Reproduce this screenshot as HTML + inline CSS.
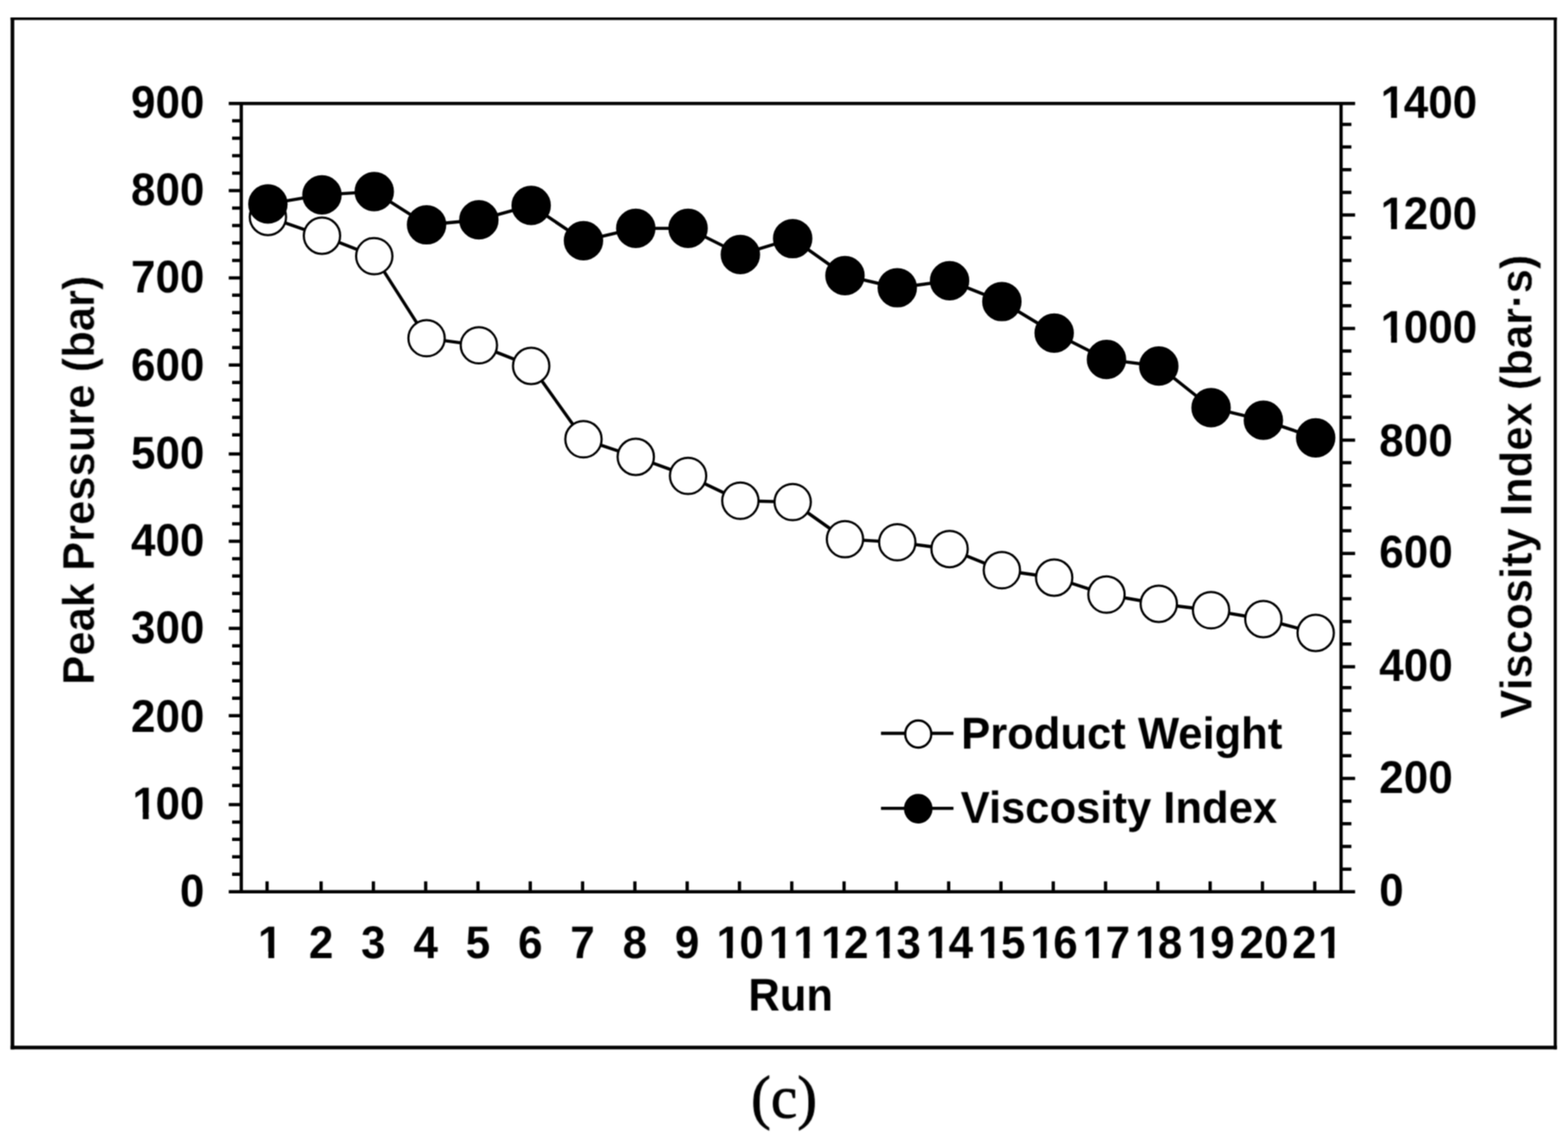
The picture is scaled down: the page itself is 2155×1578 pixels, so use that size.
<!DOCTYPE html>
<html lang="en"><head><meta charset="utf-8"><title>Peak pressure and viscosity index by run (c)</title>
<style>
html,body{margin:0;padding:0;background:#fff;}
body{width:2155px;height:1578px;overflow:hidden;}
svg{display:block;}
.t{font-family:"Liberation Sans",Arial,Helvetica,sans-serif;font-weight:700;fill:#000;text-rendering:geometricPrecision;}
.d{font-kerning:none;font-variant-ligatures:none;}
.cap{font-family:"Liberation Serif","DejaVu Serif",serif;fill:#000;}
.ln{stroke:#000;fill:none;}
</style></head><body>
<svg width="2155" height="1578" viewBox="0 0 2155 1578">
<defs><filter id="soften" filterUnits="userSpaceOnUse" x="0" y="0" width="2155" height="1578" color-interpolation-filters="sRGB"><feConvolveMatrix order="3" kernelMatrix="1 2 1 2 4 2 1 2 1" edgeMode="duplicate" preserveAlpha="false"/></filter><filter id="soften-text" filterUnits="userSpaceOnUse" x="0" y="0" width="2155" height="1578" color-interpolation-filters="sRGB"><feConvolveMatrix order="5" kernelMatrix="1 8 16 8 1 8 64 128 64 8 16 128 256 128 16 8 64 128 64 8 1 8 16 8 1" edgeMode="duplicate" preserveAlpha="false"/></filter></defs>
<rect x="0" y="0" width="2155" height="1578" fill="#fff"/>
<g id="shapes" filter="url(#soften)">
<g id="frame" fill="#000">
<rect x="14.6" y="24.0" width="2125.2" height="3.5"/>
<rect x="14.6" y="1437.4" width="2125.2" height="5.0"/>
<rect x="14.6" y="24.0" width="5.0" height="1418.4"/>
<rect x="2135.4" y="24.0" width="4.2" height="1418.4"/>
</g>
<g id="axes" class="ln" stroke-width="4.5">
<line x1="314.4" y1="142.3" x2="1862.4" y2="142.3"/>
<line x1="314.4" y1="1225.8" x2="1862.4" y2="1225.8"/>
<line x1="331.6" y1="142.3" x2="331.6" y2="1225.8"/>
<line x1="1843.1" y1="142.3" x2="1843.1" y2="1225.8"/>
</g>
<path id="ticks" class="ln" stroke-width="4.5" d="M319 166.05H331.6M319 190.03H331.6M319 214.01H331.6M319 237.99H331.6M314.4 261.98H331.6M319 285.96H331.6M319 309.94H331.6M319 333.92H331.6M319 357.9H331.6M314.4 381.88H331.6M319 405.86H331.6M319 429.84H331.6M319 453.82H331.6M319 477.8H331.6M314.4 501.79H331.6M319 525.77H331.6M319 549.75H331.6M319 573.73H331.6M319 597.71H331.6M314.4 623.99H331.6M319 647.97H331.6M319 671.95H331.6M319 695.93H331.6M319 719.91H331.6M314.4 743.89H331.6M319 767.88H331.6M319 791.86H331.6M319 815.84H331.6M319 839.82H331.6M314.4 863.8H331.6M319 887.78H331.6M319 911.76H331.6M319 935.74H331.6M319 959.72H331.6M314.4 983.7H331.6M319 1007.69H331.6M319 1031.67H331.6M319 1055.65H331.6M319 1079.63H331.6M314.4 1105.91H331.6M319 1129.89H331.6M319 1153.87H331.6M319 1177.85H331.6M319 1201.83H331.6M1843.1 170.93H1857.3M1843.1 202.09H1857.3M1843.1 233.25H1857.3M1843.1 264.41H1857.3M1843.1 295.57H1862.4M1843.1 326.74H1857.3M1843.1 357.9H1857.3M1843.1 389.06H1857.3M1843.1 420.22H1857.3M1843.1 451.38H1862.4M1843.1 482.54H1857.3M1843.1 513.7H1857.3M1843.1 544.86H1857.3M1843.1 573.72H1857.3M1843.1 604.89H1862.4M1843.1 636.05H1857.3M1843.1 667.21H1857.3M1843.1 698.37H1857.3M1843.1 729.53H1857.3M1843.1 760.69H1862.4M1843.1 791.85H1857.3M1843.1 823.01H1857.3M1843.1 854.17H1857.3M1843.1 885.33H1857.3M1843.1 916.5H1862.4M1843.1 945.36H1857.3M1843.1 976.52H1857.3M1843.1 1007.68H1857.3M1843.1 1038.84H1857.3M1843.1 1070H1862.4M1843.1 1101.16H1857.3M1843.1 1132.32H1857.3M1843.1 1163.48H1857.3M1843.1 1194.64H1857.3M367.05 1211.6V1225.8M441.3 1211.6V1225.8M513.18 1211.6V1225.8M585.05 1211.6V1225.8M656.93 1211.6V1225.8M728.8 1211.6V1225.8M800.68 1211.6V1225.8M872.56 1211.6V1225.8M944.43 1211.6V1225.8M1016.31 1211.6V1225.8M1088.18 1211.6V1225.8M1160.06 1211.6V1225.8M1231.94 1211.6V1225.8M1303.81 1211.6V1225.8M1375.69 1211.6V1225.8M1447.56 1211.6V1225.8M1519.44 1211.6V1225.8M1591.32 1211.6V1225.8M1663.19 1211.6V1225.8M1735.07 1211.6V1225.8M1806.94 1211.6V1225.8"/>
<g id="product-weight">
<polyline class="ln" stroke-width="4.4" stroke-linejoin="round" points="368.2,298.2 442.5,324 514.38,352.1 586.26,464.9 658.14,474.6 730.02,503 801.9,603.8 873.78,628 945.66,654.1 1017.54,688.3 1089.42,690.1 1161.3,741.1 1233.18,745.4 1305.06,754.7 1376.94,783.8 1448.82,794 1520.7,817.3 1592.58,830 1664.46,838.8 1736.34,851 1808.22,870"/>
<g fill="#fff" stroke="#000" stroke-width="3.0">
<circle cx="368.2" cy="298.2" r="24.95"/>
<circle cx="442.5" cy="324" r="24.95"/>
<circle cx="514.38" cy="352.1" r="24.95"/>
<circle cx="586.26" cy="464.9" r="24.95"/>
<circle cx="658.14" cy="474.6" r="24.95"/>
<circle cx="730.02" cy="503" r="24.95"/>
<circle cx="801.9" cy="603.8" r="24.95"/>
<circle cx="873.78" cy="628" r="24.95"/>
<circle cx="945.66" cy="654.1" r="24.95"/>
<circle cx="1017.54" cy="688.3" r="24.95"/>
<circle cx="1089.42" cy="690.1" r="24.95"/>
<circle cx="1161.3" cy="741.1" r="24.95"/>
<circle cx="1233.18" cy="745.4" r="24.95"/>
<circle cx="1305.06" cy="754.7" r="24.95"/>
<circle cx="1376.94" cy="783.8" r="24.95"/>
<circle cx="1448.82" cy="794" r="24.95"/>
<circle cx="1520.7" cy="817.3" r="24.95"/>
<circle cx="1592.58" cy="830" r="24.95"/>
<circle cx="1664.46" cy="838.8" r="24.95"/>
<circle cx="1736.34" cy="851" r="24.95"/>
<circle cx="1808.22" cy="870" r="24.95"/>
</g></g>
<g id="viscosity-index">
<polyline class="ln" stroke-width="4.4" stroke-linejoin="round" points="368.2,280.4 442.5,267.9 514.38,263.4 586.26,309 658.14,302.2 730.02,282.4 801.9,330.8 873.78,313.9 945.66,313.9 1017.54,349.9 1089.42,328 1161.3,378.9 1233.18,395.5 1305.06,385.9 1376.94,414.5 1448.82,457.8 1520.7,494.1 1592.58,503.2 1664.46,560.4 1736.34,577.7 1808.22,601.8"/>
<g fill="#000" stroke="#000" stroke-width="3.6">
<circle cx="368.2" cy="280.4" r="25.3"/>
<circle cx="442.5" cy="267.9" r="25.3"/>
<circle cx="514.38" cy="263.4" r="25.3"/>
<circle cx="586.26" cy="309" r="25.3"/>
<circle cx="658.14" cy="302.2" r="25.3"/>
<circle cx="730.02" cy="282.4" r="25.3"/>
<circle cx="801.9" cy="330.8" r="25.3"/>
<circle cx="873.78" cy="313.9" r="25.3"/>
<circle cx="945.66" cy="313.9" r="25.3"/>
<circle cx="1017.54" cy="349.9" r="25.3"/>
<circle cx="1089.42" cy="328" r="25.3"/>
<circle cx="1161.3" cy="378.9" r="25.3"/>
<circle cx="1233.18" cy="395.5" r="25.3"/>
<circle cx="1305.06" cy="385.9" r="25.3"/>
<circle cx="1376.94" cy="414.5" r="25.3"/>
<circle cx="1448.82" cy="457.8" r="25.3"/>
<circle cx="1520.7" cy="494.1" r="25.3"/>
<circle cx="1592.58" cy="503.2" r="25.3"/>
<circle cx="1664.46" cy="560.4" r="25.3"/>
<circle cx="1736.34" cy="577.7" r="25.3"/>
<circle cx="1808.22" cy="601.8" r="25.3"/>
</g></g>
<g id="legend">
<path class="ln" stroke-width="4.4" d="M1210.8 1008.0H1310.4M1210.8 1111.1H1310.4"/>
<ellipse cx="1262.0" cy="1009.0" rx="17.9" ry="18.6" fill="#fff" stroke="#000" stroke-width="3.2"/>
<ellipse cx="1262.0" cy="1111.6" rx="18.0" ry="18.7" fill="#000" stroke="#000" stroke-width="3.2"/>
</g>
</g>
<g id="labels" filter="url(#soften-text)">
<g id="ylabels-left" class="t d" font-size="60.5">
<text transform="translate(247.35 1245.6) scale(1 1.04)">0</text>
<text transform="translate(180.06 1126.01) scale(1 1.04)"><tspan dx="2">1</tspan><tspan dx="-2">0</tspan>0</text>
<text transform="translate(180.06 1005.7) scale(1 1.04)">200</text>
<text transform="translate(180.06 883.6) scale(1 1.04)">300</text>
<text transform="translate(180.06 763.5) scale(1 1.04)">400</text>
<text transform="translate(180.06 643.99) scale(1 1.04)">500</text>
<text transform="translate(180.06 523.49) scale(1 1.04)">600</text>
<text transform="translate(180.06 401.78) scale(1 1.04)">700</text>
<text transform="translate(180.06 281.77) scale(1 1.04)">800</text>
<text transform="translate(180.06 161.7) scale(1 1.04)">900</text>
</g>
<g id="ylabels-right" class="t d" font-size="60.5">
<text transform="translate(1895.6 1245.4) scale(1 1.04)">0</text>
<text transform="translate(1895.6 1090.2) scale(1 1.04)">200</text>
<text transform="translate(1895.6 935.9) scale(1 1.04)">400</text>
<text transform="translate(1895.6 780.09) scale(1 1.04)">600</text>
<text transform="translate(1895.6 626.69) scale(1 1.04)">800</text>
<text transform="translate(1895.6 470.98) scale(1 1.04)"><tspan dx="2">1</tspan><tspan dx="-2">0</tspan>00</text>
<text transform="translate(1895.6 315.27) scale(1 1.04)"><tspan dx="2">1</tspan><tspan dx="-2">2</tspan>00</text>
<text transform="translate(1895.6 161.7) scale(1 1.04)"><tspan dx="2">1</tspan><tspan dx="-2">4</tspan>00</text>
</g>
<g id="xlabels" class="t d" font-size="60.5">
<text transform="translate(352.58 1317.4) scale(1 1.04)"><tspan dx="2">1</tspan></text>
<text transform="translate(424.48 1317.4) scale(1 1.04)">2</text>
<text transform="translate(496.35 1317.4) scale(1 1.04)">3</text>
<text transform="translate(568.23 1317.4) scale(1 1.04)">4</text>
<text transform="translate(640.1 1317.4) scale(1 1.04)">5</text>
<text transform="translate(711.98 1317.4) scale(1 1.04)">6</text>
<text transform="translate(783.86 1317.4) scale(1 1.04)">7</text>
<text transform="translate(855.73 1317.4) scale(1 1.04)">8</text>
<text transform="translate(927.61 1317.4) scale(1 1.04)">9</text>
<text transform="translate(982.66 1317.4) scale(1 1.04)"><tspan dx="2">1</tspan><tspan dx="-2">0</tspan></text>
<text transform="translate(1054.54 1317.4) scale(1 1.04)"><tspan dx="2">1</tspan>1</text>
<text transform="translate(1126.41 1317.4) scale(1 1.04)"><tspan dx="2">1</tspan><tspan dx="-2">2</tspan></text>
<text transform="translate(1198.29 1317.4) scale(1 1.04)"><tspan dx="2">1</tspan><tspan dx="-2">3</tspan></text>
<text transform="translate(1270.16 1317.4) scale(1 1.04)"><tspan dx="2">1</tspan><tspan dx="-2">4</tspan></text>
<text transform="translate(1342.04 1317.4) scale(1 1.04)"><tspan dx="2">1</tspan><tspan dx="-2">5</tspan></text>
<text transform="translate(1413.92 1317.4) scale(1 1.04)"><tspan dx="2">1</tspan><tspan dx="-2">6</tspan></text>
<text transform="translate(1485.79 1317.4) scale(1 1.04)"><tspan dx="2">1</tspan><tspan dx="-2">7</tspan></text>
<text transform="translate(1557.67 1317.4) scale(1 1.04)"><tspan dx="2">1</tspan><tspan dx="-2">8</tspan></text>
<text transform="translate(1629.54 1317.4) scale(1 1.04)"><tspan dx="2">1</tspan><tspan dx="-2">9</tspan></text>
<text transform="translate(1703.52 1317.4) scale(1 1.04)">20</text>
<text transform="translate(1775.8 1317.4) scale(1 1.04)">2<tspan dx="2">1</tspan></text>
</g>
<path id="serif-masks" fill="#fff" d="M184.67 1116.59H196.28v11.42H184.67zM204.38 1116.59H215.22v11.42H204.38zM1900.21 461.56H1911.82v11.42H1900.21zM1919.92 461.56H1930.76v11.42H1919.92zM1900.21 305.85H1911.82v11.42H1900.21zM1919.92 305.85H1930.76v11.42H1919.92zM1900.21 152.28H1911.82v11.42H1900.21zM1919.92 152.28H1930.76v11.42H1919.92zM357.19 1307.98H368.8v11.42H357.19zM376.9 1307.98H387.74v11.42H376.9zM987.27 1307.98H998.88v11.42H987.27zM1006.98 1307.98H1017.82v11.42H1006.98zM1059.15 1307.98H1070.76v11.42H1059.15zM1078.86 1307.98H1089.7v11.42H1078.86zM1092.79 1307.98H1104.4v11.42H1092.79zM1112.51 1307.98H1123.35v11.42H1112.51zM1131.02 1307.98H1142.63v11.42H1131.02zM1150.73 1307.98H1161.58v11.42H1150.73zM1202.9 1307.98H1214.51v11.42H1202.9zM1222.61 1307.98H1233.45v11.42H1222.61zM1274.78 1307.98H1286.39v11.42H1274.78zM1294.49 1307.98H1305.33v11.42H1294.49zM1346.65 1307.98H1358.26v11.42H1346.65zM1366.36 1307.98H1377.2v11.42H1366.36zM1418.53 1307.98H1430.14v11.42H1418.53zM1438.24 1307.98H1449.08v11.42H1438.24zM1490.4 1307.98H1502.01v11.42H1490.4zM1510.11 1307.98H1520.96v11.42H1510.11zM1562.28 1307.98H1573.89v11.42H1562.28zM1581.99 1307.98H1592.83v11.42H1581.99zM1634.16 1307.98H1645.77v11.42H1634.16zM1653.87 1307.98H1664.71v11.42H1653.87zM1814.05 1307.98H1825.66v11.42H1814.05zM1833.77 1307.98H1844.61v11.42H1833.77z"/>
<text transform="translate(1086.6 1389) scale(1 1.05)" class="t" font-size="59.9" text-anchor="middle">Run</text>
<text class="t" stroke="#fff" stroke-width="0.45" font-size="59.9" text-anchor="middle" transform="translate(129.6 660) rotate(-90) scale(1 1.025)">Peak Pressure (bar)</text>
<text class="t" stroke="#fff" stroke-width="0.45" font-size="59.9" text-anchor="middle" transform="translate(2105.3 669) rotate(-90) scale(1 1.025)">Viscosity Index (bar·s)</text>
<text transform="translate(1321 1029.4) scale(1 1.025)" class="t" font-size="59.9">Product Weight</text>
<text transform="translate(1320.3 1130.8) scale(1 1.025)" class="t" font-size="59.9">Viscosity Index</text>
<text class="cap" font-size="81.5" text-anchor="middle" x="1077.6" y="1536.4" stroke="#000" stroke-width="1.1" stroke-linejoin="round">(c)</text>
</g>
</svg>
</body></html>
